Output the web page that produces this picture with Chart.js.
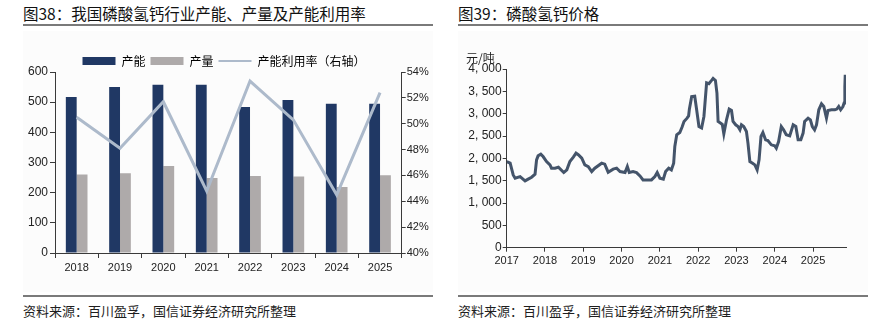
<!DOCTYPE html>
<html lang="zh-CN">
<head>
<meta charset="utf-8">
<title>磷酸氢钙</title>
<script src="https://cdn.jsdelivr.net/npm/chart.js@4.4.0/dist/chart.umd.min.js"></script>
<style>
  html, body { margin: 0; padding: 0; background: #fff; }
  body { width: 876px; height: 325px; position: relative; overflow: hidden;
         font-family: 'Noto Sans CJK SC', 'Liberation Sans', sans-serif; color: #1e1e1e; }
  .title { position: absolute; top: 3px; font-size: 15.5px; font-weight: 400; line-height: 20px; white-space: nowrap; color: #111; }
  .rule { position: absolute; height: 2px; background: #7a7a7a; }
  .panel { position: absolute; top: 31px; height: 261px; background: #fcfcfc; }
  .source { position: absolute; top: 302px; font-size: 13px; line-height: 18px; white-space: nowrap; }
  .unit { position: absolute; left: 466px; top: 50px; font-size: 12px; line-height: 16px; }
  canvas { position: absolute; }
</style>
</head>
<body>

<div class="title" style="left:23px">图38：我国磷酸氢钙行业产能、产量及产能利用率</div>
<div class="rule" style="left:23px; width:410px; top:24px"></div>
<div class="panel" style="left:23px; width:410px"></div>

<div class="title" style="left:458px">图39：磷酸氢钙价格</div>
<div class="rule" style="left:458px; width:410px; top:24px"></div>
<div class="panel" style="left:458px; width:410px"></div>

<canvas id="chartCapacity" width="440" height="255" style="left:0; top:35px"></canvas>
<canvas id="chartPrice" width="436" height="255" style="left:440px; top:35px"></canvas>
<div class="unit">元/吨</div>

<div class="rule" style="left:23px; width:410px; top:295px"></div>
<div class="source" style="left:23px">资料来源：百川盈孚，国信证券经济研究所整理</div>
<div class="rule" style="left:458px; width:410px; top:295px"></div>
<div class="source" style="left:458px">资料来源：百川盈孚，国信证券经济研究所整理</div>

<script>
// capacity / output (万吨) and utilisation (%)
const years = ['2018', '2019', '2020', '2021', '2022', '2023', '2024', '2025'];
const capacity = [517, 550, 558, 558, 484, 507, 495, 495];
const output = [260, 264, 288, 249, 255, 254, 219, 258];
const utilization = [50.5, 48.1, 51.7, 44.8, 53.3, 50.3, 44.5, 52.4];

// price, 元/吨, x as fractional year
const priceDates = [
    2017.00, 2017.09, 2017.17, 2017.22, 2017.35, 2017.48, 2017.56, 2017.65, 2017.74, 2017.78,
    2017.82, 2017.89, 2017.95, 2018.04, 2018.13, 2018.17, 2018.26, 2018.35, 2018.49, 2018.57,
    2018.65, 2018.74, 2018.81, 2018.87, 2018.96, 2019.04, 2019.13, 2019.22, 2019.30, 2019.48,
    2019.56, 2019.65, 2019.78, 2019.87, 2019.96, 2020.09, 2020.15, 2020.20, 2020.30, 2020.39,
    2020.48, 2020.56, 2020.69, 2020.78, 2020.87, 2020.93, 2021.00, 2021.09, 2021.15, 2021.23,
    2021.30, 2021.36, 2021.39, 2021.44, 2021.52, 2021.58, 2021.63, 2021.71, 2021.75, 2021.77,
    2021.83, 2021.91, 2021.96, 2022.02, 2022.09, 2022.15, 2022.22, 2022.28, 2022.35, 2022.39,
    2022.45, 2022.49, 2022.52, 2022.58, 2022.63, 2022.67, 2022.74, 2022.81, 2022.87, 2022.91,
    2022.98, 2023.04, 2023.09, 2023.13, 2023.19, 2023.26, 2023.30, 2023.35, 2023.42, 2023.48,
    2023.54, 2023.59, 2023.64, 2023.69, 2023.76, 2023.82, 2023.91, 2024.00, 2024.04, 2024.10,
    2024.17, 2024.23, 2024.30, 2024.39, 2024.48, 2024.55, 2024.61, 2024.68, 2024.74, 2024.78,
    2024.87, 2024.93, 2024.98, 2025.04, 2025.09, 2025.15, 2025.22, 2025.28, 2025.35, 2025.39,
    2025.48, 2025.57, 2025.62, 2025.67, 2025.72, 2025.78, 2025.81, 2025.83, 2025.84
];
const priceValues = [
    1928, 1892, 1630, 1556, 1592, 1495, 1534, 1578, 1645, 1966,
    2056, 2094, 2040, 1928, 1854, 1780, 1780, 1802, 1682, 1742,
    1928, 2027, 2116, 2080, 2004, 1854, 1816, 1704, 1780, 1892,
    1870, 1690, 1758, 1780, 1704, 1682, 1816, 1682, 1704, 1682,
    1607, 1518, 1518, 1518, 1592, 1682, 1556, 1534, 1704, 1780,
    1742, 1892, 2265, 2527, 2578, 2700, 2825, 2900, 2950, 3100,
    3380, 3390, 3087, 2713, 2680, 2937, 3690, 3670, 3744, 3790,
    3744, 3462, 2825, 2789, 2760, 2549, 2863, 3103, 3072, 2825,
    2751, 2713, 2639, 2751, 2713, 2601, 2341, 1928, 1892, 1854,
    1742, 1966, 2489, 2578, 2415, 2400, 2303, 2280, 2229, 2377,
    2713, 2639, 2527, 2504, 2751, 2713, 2415, 2415, 2565, 2825,
    2901, 2863, 2713, 2639, 2751, 3087, 3222, 3161, 2901, 3072,
    3087, 3087, 3103, 3161, 3087, 3161, 3237, 3610, 3872
];
const priceYearTicks = [2017, 2018, 2019, 2020, 2021, 2022, 2023, 2024, 2025];
const priceTicks = [0, 500, 1000, 1500, 2000, 2500, 3000, 3500, 4000];

const NAVY = '#203864';
const GREY = '#aeaaaa';
const RATE = '#adbacb';
const PRICE = '#44546a';
const AXIS = '#3a3a3a';
const NUM_FONT = "'Liberation Sans', Arial, sans-serif";
const CJK_FONT = "'Noto Sans CJK SC', 'Liberation Sans', sans-serif";

// fixed legend box height so the plot area lands where we want it
const legendHeight = {
    id: 'legendHeight',
    beforeInit(chart) {
        if (!chart.legend) return;
        const fit = chart.legend.fit;
        chart.legend.fit = function () {
            fit.call(this);
            this.height = 22;
        };
    }
};

function fixWidth(w) { return scale => { scale.width = w; }; }
function fixHeight(h) { return scale => { scale.height = h; }; }

function thousands(v) {
    if (v < 1000) return String(v);
    return Math.floor(v / 1000) + ', ' + String(v % 1000).padStart(3, '0');
}

const ctxCap = document.getElementById('chartCapacity').getContext('2d');
new Chart(ctxCap, {
    type: 'bar',
    data: {
        labels: years,
        datasets: [
            {
                type: 'line',
                label: '产能利用率（右轴）',
                data: utilization,
                yAxisID: 'y1',
                borderColor: RATE,
                borderWidth: 3,
                pointRadius: 0,
                tension: 0,
                fill: false,
                order: -1
            },
            { label: '产能', data: capacity, backgroundColor: NAVY, yAxisID: 'y', order: 1 },
            { label: '产量', data: output, backgroundColor: GREY, yAxisID: 'y', order: 1 }
        ]
    },
    options: {
        responsive: false,
        animation: false,
        layout: { padding: { top: 15, left: 8, right: 0, bottom: 0 } },
        datasets: { bar: { categoryPercentage: 0.5, barPercentage: 1.0, borderWidth: 0 } },
        plugins: {
            tooltip: { enabled: false },
            legend: {
                position: 'top',
                labels: {
                    usePointStyle: true,
                    pointStyleWidth: 33,
                    boxHeight: 8,
                    padding: 5,
                    color: '#222',
                    font: { family: CJK_FONT, size: 12 },
                    generateLabels(chart) {
                        const ds = chart.data.datasets;
                        return [
                            { text: ds[1].label, fillStyle: NAVY, strokeStyle: NAVY, lineWidth: 0, pointStyle: 'rect', datasetIndex: 1 },
                            { text: ds[2].label, fillStyle: GREY, strokeStyle: GREY, lineWidth: 0, pointStyle: 'rect', datasetIndex: 2 },
                            { text: ds[0].label, fillStyle: RATE, strokeStyle: RATE, lineWidth: 2, pointStyle: 'line', datasetIndex: 0 }
                        ];
                    }
                }
            }
        },
        scales: {
            x: {
                afterFit: fixHeight(37),
                grid: { display: true, drawOnChartArea: false, tickLength: 5, color: AXIS, offset: true },
                border: { color: AXIS },
                ticks: { color: '#222', padding: 3, font: { family: NUM_FONT, size: 11 } }
            },
            y: {
                position: 'left',
                min: 0,
                max: 600,
                afterFit: fixWidth(47),
                grid: { drawOnChartArea: false, tickLength: 5, color: AXIS },
                border: { color: AXIS },
                ticks: { stepSize: 100, color: '#222', padding: 2, font: { family: NUM_FONT, size: 12 } }
            },
            y1: {
                position: 'right',
                min: 40,
                max: 54,
                afterFit: fixWidth(38.3),
                grid: { drawOnChartArea: false, tickLength: 4, color: AXIS },
                border: { color: AXIS },
                ticks: {
                    stepSize: 2,
                    color: '#222',
                    padding: 1,
                    font: { family: NUM_FONT, size: 11 },
                    callback: v => v + '%'
                }
            }
        }
    },
    plugins: [legendHeight]
});

const ctxPrice = document.getElementById('chartPrice').getContext('2d');
new Chart(ctxPrice, {
    type: 'line',
    data: {
        datasets: [{
            label: '磷酸氢钙价格',
            data: priceDates.map((d, i) => ({ x: d, y: priceValues[i] })),
            borderColor: PRICE,
            borderWidth: 3,
            pointRadius: 0,
            tension: 0,
            fill: false
        }]
    },
    options: {
        responsive: false,
        animation: false,
        layout: { padding: { top: 34, left: 0, right: 30, bottom: 0 } },
        plugins: { legend: { display: false }, tooltip: { enabled: false } },
        scales: {
            x: {
                type: 'linear',
                min: 2017,
                max: 2025.86,
                afterFit: fixHeight(42.3),
                afterBuildTicks: scale => { scale.ticks = priceYearTicks.map(v => ({ value: v })); },
                grid: { drawOnChartArea: false, tickLength: 4, color: AXIS },
                border: { color: AXIS },
                ticks: { color: '#222', padding: 3, font: { family: NUM_FONT, size: 11 }, callback: v => String(v) }
            },
            y: {
                min: 0,
                max: 4000,
                afterFit: fixWidth(66.7),
                afterBuildTicks: scale => { scale.ticks = priceTicks.map(v => ({ value: v })); },
                grid: { drawOnChartArea: false, tickLength: 4, color: AXIS },
                border: { color: AXIS },
                ticks: { color: '#222', padding: 1, font: { family: NUM_FONT, size: 12 }, callback: v => thousands(v) }
            }
        }
    }
});
</script>
</body>
</html>
